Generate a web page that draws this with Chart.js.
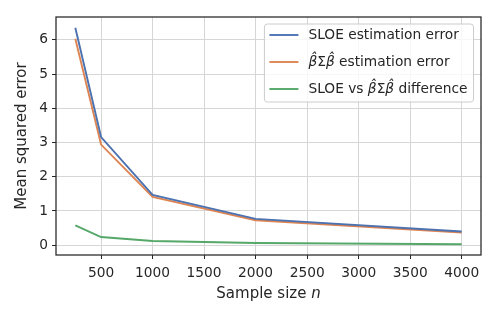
<!DOCTYPE html>
<html>
<head>
<meta charset="utf-8">
<script src="https://cdn.jsdelivr.net/npm/chart.js@4/dist/chart.umd.min.js"></script>
<style>
	html, body { margin: 0; padding: 0; background: #fff; }
	#wrap { width: 498px; height: 317px; }
</style>
</head>
<body>
<div id="wrap"><canvas id="mse_line"></canvas></div>
<script>
// values
const sampleSizes = [250, 500, 1000, 2000, 4000];
const sloeError = [6.35, 3.16, 1.47, 0.77, 0.40];
const bsbError = [6.03, 2.94, 1.41, 0.73, 0.37];
const diffError = [0.58, 0.24, 0.125, 0.065, 0.03];
const xTicks = [500, 1000, 1500, 2000, 2500, 3000, 3500, 4000];
const yTicks = [0, 1, 2, 3, 4, 5, 6];
const seriesLabels = ['SLOE estimation error', 'β\u0302Σβ\u0302 estimation error', 'SLOE vs β\u0302Σβ\u0302 difference'];
const xTitle = 'Sample size n';
const yTitle = 'Mean squared error';

const ink = '#262626';
const font = 'DejaVu Sans';

const toPoints = (ys) => sampleSizes.map((x, i) => ({ x: x, y: ys[i] }));

// draws a label, italic for the hatted beta
const drawRich = (ctx, text, x, y, size) => {
	const parts = text.split(/(β\u0302)/);
	parts.forEach(p => {
		if (!p) return;
		ctx.font = (p.startsWith('β') ? 'italic ' : '') + size + 'px "' + font + '"';
		ctx.fillText(p, x, y);
		x += ctx.measureText(p).width;
	});
	return x;
};

const measureRich = (ctx, text, size) => {
	let w = 0;
	text.split(/(β\u0302)/).forEach(p => {
		if (!p) return;
		ctx.font = (p.startsWith('β') ? 'italic ' : '') + size + 'px "' + font + '"';
		w += ctx.measureText(p).width;
	});
	return w;
};

const framePlugin = {
	id: 'frame',
	afterDraw(chart) {
		const ctx = chart.ctx;
		const a = chart.chartArea;
		ctx.save();
		ctx.strokeStyle = ink;
		ctx.lineWidth = 1.25;
		ctx.strokeRect(a.left, a.top, a.right - a.left, a.bottom - a.top);

		// x title with italic n
		ctx.fillStyle = ink;
		ctx.textBaseline = 'middle';
		ctx.textAlign = 'left';
		const words = xTitle.split(' ');
		const last = words.pop();
		const head = words.join(' ') + ' ';
		ctx.font = '15px "' + font + '"';
		const wHead = ctx.measureText(head).width;
		ctx.font = 'italic 15px "' + font + '"';
		const wLast = ctx.measureText(last).width;
		let tx = (a.left + a.right) / 2 - (wHead + wLast) / 2;
		ctx.font = '15px "' + font + '"';
		ctx.fillText(head, tx, 294);
		ctx.font = 'italic 15px "' + font + '"';
		ctx.fillText(last, tx + wHead, 294);

		// legend, upper right inside the axes
		const size = 13.75;
		const rowH = 27;
		const handle = 29;
		let textW = 0;
		chart.data.datasets.forEach(ds => { textW = Math.max(textW, measureRich(ctx, ds.label, size)); });
		const boxW = 5 + handle + 10 + textW + 6;
		const boxH = 78;
		const bx = a.right - 7.5 - boxW;
		const by = a.top + 7;
		ctx.beginPath();
		ctx.roundRect(bx, by, boxW, boxH, 3);
		ctx.fillStyle = 'rgba(255,255,255,0.8)';
		ctx.fill();
		ctx.strokeStyle = '#cccccc';
		ctx.lineWidth = 1;
		ctx.stroke();
		chart.data.datasets.forEach((ds, i) => {
			const ry = by + 11 + i * rowH;
			ctx.strokeStyle = ds.borderColor;
			ctx.lineWidth = 1.9;
			ctx.beginPath();
			ctx.moveTo(bx + 5, ry);
			ctx.lineTo(bx + 5 + handle, ry);
			ctx.stroke();
			ctx.fillStyle = ink;
			ctx.textBaseline = 'middle';
			drawRich(ctx, ds.label, bx + 5 + handle + 10, ry, size);
		});
		ctx.restore();
	}
};

const data = {
	datasets: [{
		label: seriesLabels[0],
		data: toPoints(sloeError),
		borderColor: '#4c72b0',
	}, {
		label: seriesLabels[1],
		data: toPoints(bsbError),
		borderColor: '#dd8452',
	}, {
		label: seriesLabels[2],
		data: toPoints(diffError),
		borderColor: '#55a868',
	}]
};
data.datasets.forEach(ds => {
	ds.borderWidth = 1.9;
	ds.pointRadius = 0;
	ds.fill = false;
	ds.tension = 0;
});

const config = {
	type: 'line',
	data: data,
	options: {
		responsive: true,
		maintainAspectRatio: false,
		animation: false,
		layout: { padding: { top: 17, right: 17, left: 0, bottom: 0 } },
		scales: {
			x: {
				type: 'linear',
				min: 62.5,
				max: 4187.5,
				afterBuildTicks: (scale) => { scale.ticks = xTicks.map(v => ({ value: v })); },
				afterFit: (scale) => { scale.height = 62; },
				grid: { color: '#d6d6d6', tickColor: ink, tickLength: 4, lineWidth: 1 },
				border: { display: false },
				ticks: { color: ink, font: { family: font, size: 13.75 }, padding: 6, maxRotation: 0, callback: (v) => String(v) }
			},
			y: {
				type: 'linear',
				min: -0.286,
				max: 6.666,
				afterBuildTicks: (scale) => { scale.ticks = yTicks.map(v => ({ value: v })); },
				afterFit: (scale) => { scale.width = 56; },
				grid: { color: '#d6d6d6', tickColor: ink, tickLength: 4, lineWidth: 1 },
				border: { display: false },
				ticks: { color: ink, font: { family: font, size: 13.75 }, padding: 4, callback: (v) => String(v) },
				title: { display: true, text: yTitle, color: ink, font: { family: font, size: 15 }, padding: { top: 13, bottom: 0 } }
			}
		},
		plugins: {
			legend: { display: false },
			tooltip: { enabled: false }
		}
	},
	plugins: [framePlugin]
};

var ctx = document.getElementById('mse_line');
if (ctx != null) {
	const chart = new Chart(ctx, config);
}
</script>
</body>
</html>
